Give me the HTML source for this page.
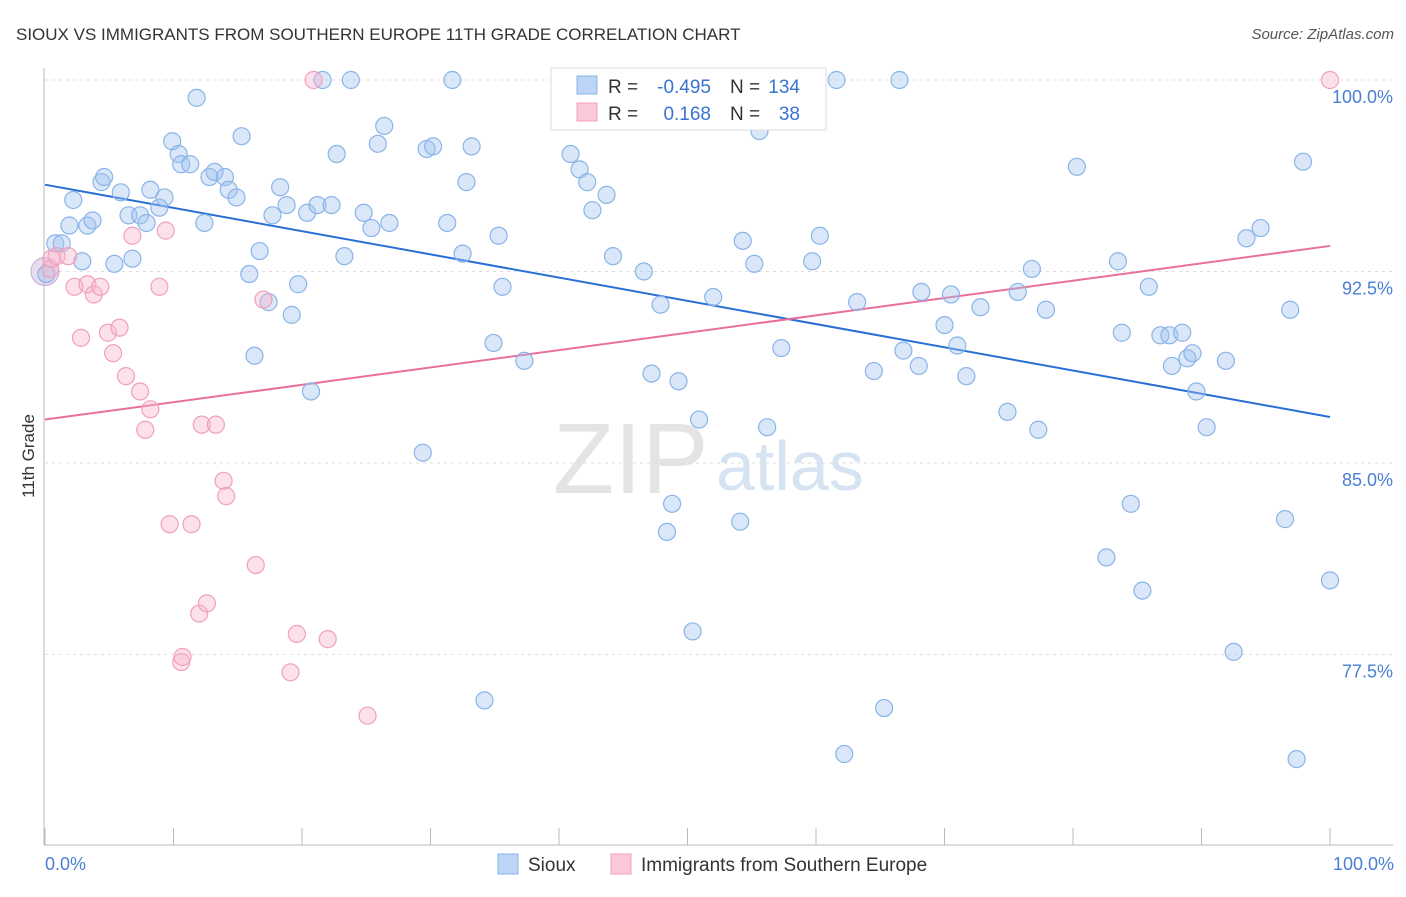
<!DOCTYPE html>
<html><head><meta charset="utf-8"><style>
body{margin:0;background:#fff;font-family:"Liberation Sans",sans-serif;}
svg text{font-family:"Liberation Sans",sans-serif;}
</style></head><body>
<svg id="chart" width="1406" height="892" xmlns="http://www.w3.org/2000/svg">
<text x="16" y="40" font-size="17" fill="#333">SIOUX VS IMMIGRANTS FROM SOUTHERN EUROPE 11TH GRADE CORRELATION CHART</text>
<text x="1394" y="39" font-size="15" fill="#555" text-anchor="end" font-style="italic">Source: ZipAtlas.com</text>
<text x="553" y="493" font-size="100" fill="#e4e4e4" font-family="Liberation Serif">ZIP</text>
<text x="716" y="490" font-size="70" fill="#d6e3f3">atlas</text>
<g id="grid"></g><g id="axes"></g><g id="trends"></g><g id="points"></g>
<text transform="translate(34,456) rotate(-90)" font-size="17" fill="#333" text-anchor="middle">11th Grade</text>
<text x="45" y="870" font-size="18" fill="#4a7fd4">0.0%</text>
<text x="1394" y="870" font-size="18" fill="#4a7fd4" text-anchor="end">100.0%</text>
<g>
<rect x="551" y="68" width="275" height="62" fill="#fff" stroke="#ddd"/>
<rect x="577" y="76" width="20" height="18" fill="#bcd4f5" stroke="#8ab4e8"/>
<rect x="577" y="103" width="20" height="18" fill="#fac8d6" stroke="#f0a0bb"/>
<text x="608" y="93" font-size="19" fill="#333">R =</text>
<text x="711" y="93" font-size="19" fill="#3a74d0" text-anchor="end">-0.495</text>
<text x="730" y="93" font-size="19" fill="#333">N =</text>
<text x="800" y="93" font-size="19" fill="#3a74d0" text-anchor="end">134</text>
<text x="608" y="120" font-size="19" fill="#333">R =</text>
<text x="711" y="120" font-size="19" fill="#3a74d0" text-anchor="end">0.168</text>
<text x="730" y="120" font-size="19" fill="#333">N =</text>
<text x="800" y="120" font-size="19" fill="#3a74d0" text-anchor="end">38</text>
</g>
<g>
<rect x="498" y="854" width="20" height="20" fill="#bcd4f5" stroke="#8ab4e8"/>
<text x="528" y="871" font-size="19" fill="#333">Sioux</text>
<rect x="611" y="854" width="20" height="20" fill="#fac8d6" stroke="#f0a0bb"/>
<text x="641" y="871" font-size="19" fill="#333">Immigrants from Southern Europe</text>
</g>
</svg>
<script>
const yTicks=[100,92.5,85,77.5];
const yTickLabels=["100.0%","92.5%","85.0%","77.5%"];
const xTicks=[0,10,20,30,40,50,60,70,80,90,100];
const siouxX=[0.8,1.3,1.9,2.2,2.9,3.3,3.7,4.4,4.6,5.4,5.9,6.5,6.8,7.4,7.9,8.2,8.9,9.3,9.9,10.4,10.6,11.3,11.8,12.4,12.8,13.2,14.0,14.3,14.9,15.3,15.9,16.3,16.7,17.4,17.7,18.3,18.8,19.7,19.2,20.4,20.7,21.2,21.6,22.3,22.7,23.3,23.8,24.8,25.4,25.9,26.4,26.8,29.4,29.7,30.2,31.3,31.7,32.5,32.8,33.2,34.2,34.9,35.3,35.6,37.3,40.9,41.6,42.2,42.6,43.7,44.2,46.6,47.2,47.9,48.4,48.8,49.3,50.4,50.9,52.0,54.1,54.3,55.2,55.6,56.2,57.3,59.7,60.3,61.6,62.2,64.5,65.3,63.2,66.5,66.8,68.0,68.2,70.0,70.5,71.0,71.7,72.8,74.9,75.7,76.8,77.3,77.9,80.3,82.6,83.5,83.8,84.5,85.4,85.9,86.8,87.5,87.7,88.5,88.9,89.3,89.6,90.4,91.9,92.5,93.5,94.6,96.5,96.9,97.4,97.9,100,0.1];
const siouxY=[93.6,93.6,94.3,95.3,92.9,94.3,94.5,96.0,96.2,92.8,95.6,94.7,93.0,94.7,94.4,95.7,95.0,95.4,97.6,97.1,96.7,96.7,99.3,94.4,96.2,96.4,96.2,95.7,95.4,97.8,92.4,89.2,93.3,91.3,94.7,95.8,95.1,92.0,90.8,94.8,87.8,95.1,100,95.1,97.1,93.1,100,94.8,94.2,97.5,98.2,94.4,85.4,97.3,97.4,94.4,100,93.2,96.0,97.4,75.7,89.7,93.9,91.9,89.0,97.1,96.5,96.0,94.9,95.5,93.1,92.5,88.5,91.2,82.3,83.4,88.2,78.4,86.7,91.5,82.7,93.7,92.8,98.0,86.4,89.5,92.9,93.9,100,73.6,88.6,75.4,91.3,100,89.4,88.8,91.7,90.4,91.6,89.6,88.4,91.1,87.0,91.7,92.6,86.3,91.0,96.6,81.3,92.9,90.1,83.4,80.0,91.9,90.0,90.0,88.8,90.1,89.1,89.3,87.8,86.4,89.0,77.6,93.8,94.2,82.8,91.0,73.4,96.8,80.4,92.4];
const immX=[0.4,0.5,0.9,1.8,2.3,2.8,3.3,3.8,4.3,4.9,5.3,5.8,6.3,6.8,7.4,7.8,8.2,8.9,9.4,9.7,10.6,10.7,11.4,12.0,12.2,12.6,13.3,13.9,14.1,16.4,17.0,19.1,19.6,20.9,22.0,25.1,45.4,100];
const immY=[92.6,93.0,93.1,93.1,91.9,89.9,92.0,91.6,91.9,90.1,89.3,90.3,88.4,93.9,87.8,86.3,87.1,91.9,94.1,82.6,77.2,77.4,82.6,79.1,86.5,79.5,86.5,84.3,83.7,81.0,91.4,76.8,78.3,100,78.1,75.1,100,100];
const siouxTrend=[95.9,86.8];
const immTrend=[86.7,93.5];
const NS="http://www.w3.org/2000/svg";
const X=v=>45+v*12.85, Y=v=>80+(100-v)*25.53;
function mk(tag,attrs,parent){const e=document.createElementNS(NS,tag);for(const k in attrs)e.setAttribute(k,attrs[k]);document.getElementById(parent).appendChild(e);return e;}
yTicks.forEach((t,i)=>{
 const l=mk('line',{x1:45,x2:1393,y1:Y(t),y2:Y(t),stroke:'#ddd','stroke-dasharray':'3,4'},'grid');
 
 
 const tx=mk('text',{x:1393,y:Y(t)+23,'font-size':18,fill:'#4a7fd4','text-anchor':'end'},'grid');
 tx.textContent=yTickLabels[i];
 
 
});
const ax=mk('line',{x1:44,x2:44,y1:68,y2:845,stroke:'#bbb'},'axes');


const bx=mk('line',{x1:44,x2:1393,y1:845,y2:845,stroke:'#bbb'},'axes');


xTicks.forEach(t=>{
 const l=mk('line',{x1:X(t),x2:X(t),y1:828,y2:845,stroke:'#bbb'},'axes');
 
 
});
const t1=mk('line',{x1:X(0),x2:X(100),y1:Y(siouxTrend[0]),y2:Y(siouxTrend[1]),stroke:'#2a6fd6','stroke-width':2},'trends');


const t2=mk('line',{x1:X(0),x2:X(100),y1:Y(immTrend[0]),y2:Y(immTrend[1]),stroke:'#e8709a','stroke-width':2},'trends');


const big=mk('circle',{cx:X(0),cy:Y(92.5),r:14,fill:'rgba(200,180,220,0.45)',stroke:'#c8a8d8'},'points');


siouxX.forEach((v,i)=>{
 const c=mk('circle',{cx:X(v),cy:Y(siouxY[i]),r:8.5,fill:'rgba(160,195,240,0.4)',stroke:'#8ab4e8','stroke-width':1.2},'points');
 
 
});
immX.forEach((v,i)=>{
 const c=mk('circle',{cx:X(v),cy:Y(immY[i]),r:8.5,fill:'rgba(248,180,205,0.4)',stroke:'#f0a0bb','stroke-width':1.2},'points');
 
 
});
</script>
</body></html>
